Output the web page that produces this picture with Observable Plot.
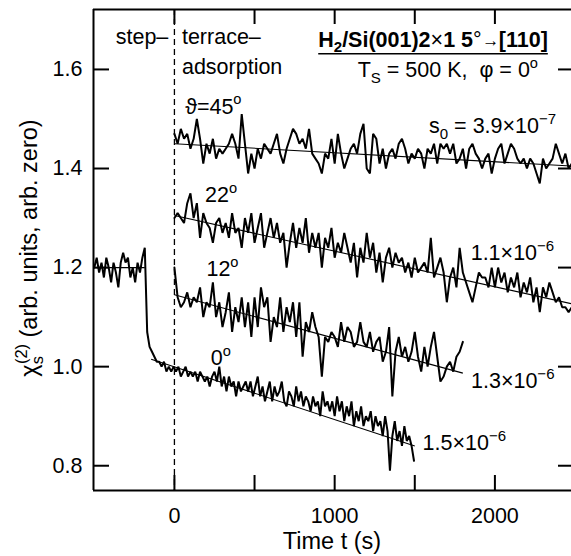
<!DOCTYPE html>
<html><head><meta charset="utf-8">
<script src="https://cdn.jsdelivr.net/npm/d3@7"></script>
<script src="https://cdn.jsdelivr.net/npm/@observablehq/plot@0.6"></script>
<style>
html,body{margin:0;padding:0;background:#fff;}
#chart svg{display:block;}
</style>
</head><body><div id="chart"></div>
<script>
// ---------- data ----------
const seriesNames = ["0°", "12°", "22°", "45°"];
const seriesStart = [-500, 0, 0, 0];     // time of first sample (s)
const seriesStep  = [15, 20, 20, 20];    // sampling interval (s)

const chi0 = [1.20,1.22,1.19,1.21,1.18,1.22,1.20,1.17,1.21,1.19,1.16,1.21,1.23,1.21,1.22,1.18,1.20,1.17,1.21,1.19,1.22,1.24,
  1.07,1.04,1.03,1.02,1.01,1.01,1.00,1.01,0.99,1.00,0.99,1.00,0.99,1.00,0.98,0.99,1.00,0.98,0.99,0.98,0.99,0.97,0.99,0.98,
  0.97,0.98,0.96,0.98,0.99,0.97,1.00,0.96,0.98,0.95,0.98,0.96,0.97,0.94,0.97,0.95,0.96,0.97,0.95,0.97,0.94,0.96,0.98,0.94,
  0.96,0.93,0.95,0.97,0.93,0.96,0.94,0.95,0.97,0.93,0.92,0.95,0.94,0.92,0.96,0.93,0.95,0.92,0.94,0.93,0.91,0.94,0.92,0.93,
  0.90,0.95,0.92,0.93,0.91,0.93,0.90,0.94,0.91,0.93,0.89,0.92,0.90,0.93,0.88,0.91,0.89,0.92,0.88,0.90,0.89,0.91,0.87,0.90,
  0.88,0.89,0.86,0.90,0.87,0.79,0.86,0.89,0.85,0.87,0.84,0.88,0.85,0.86,0.84,0.81];
const chi12 = [1.20,1.14,1.12,1.13,1.15,1.12,1.14,1.13,1.16,1.10,1.13,1.12,1.17,1.10,1.13,1.08,1.11,1.15,1.07,1.12,1.09,
  1.14,1.08,1.13,1.06,1.14,1.08,1.16,1.12,1.14,1.05,1.10,1.08,1.14,1.07,1.12,1.09,1.13,1.06,1.13,1.02,1.09,1.07,1.11,1.08,
  1.06,0.98,1.06,1.05,1.07,1.06,1.04,1.09,1.05,1.08,1.07,1.04,1.05,1.09,1.05,1.04,1.07,1.03,1.05,1.06,1.01,1.03,1.08,0.94,
  1.03,1.06,1.02,1.04,1.01,1.03,1.07,1.02,0.99,1.04,1.00,1.04,1.07,1.02,0.97,0.98,1.00,1.01,0.99,1.02,1.03,1.05];
const chi22 = [1.30,1.31,1.30,1.29,1.33,1.35,1.30,1.33,1.26,1.31,1.29,1.28,1.25,1.29,1.30,1.27,1.29,1.26,1.31,1.27,1.28,
  1.24,1.30,1.27,1.31,1.25,1.28,1.31,1.24,1.27,1.30,1.26,1.29,1.25,1.27,1.20,1.25,1.29,1.24,1.28,1.25,1.30,1.23,1.27,1.24,
  1.27,1.20,1.26,1.24,1.28,1.22,1.25,1.23,1.27,1.24,1.21,1.25,1.18,1.24,1.21,1.27,1.22,1.25,1.19,1.23,1.17,1.22,1.24,1.20,
  1.23,1.21,1.22,1.19,1.21,1.18,1.22,1.19,1.20,1.21,1.19,1.26,1.18,1.20,1.22,1.19,1.13,1.18,1.20,1.16,1.24,1.19,1.17,1.15,
  1.13,1.16,1.19,1.18,1.18,1.16,1.20,1.16,1.20,1.17,1.19,1.15,1.18,1.16,1.19,1.14,1.17,1.15,1.18,1.13,1.16,1.11,1.16,1.14,
  1.17,1.15,1.13,1.14,1.12,1.12,1.11,1.12];
const chi45 = [1.47,1.45,1.48,1.46,1.47,1.44,1.46,1.50,1.46,1.41,1.45,1.43,1.46,1.42,1.44,1.43,1.44,1.45,1.47,1.45,1.42,
  1.51,1.45,1.39,1.43,1.40,1.44,1.42,1.45,1.44,1.43,1.45,1.47,1.43,1.41,1.44,1.46,1.48,1.47,1.45,1.46,1.44,1.48,1.43,1.42,
  1.41,1.39,1.43,1.42,1.46,1.41,1.47,1.43,1.40,1.42,1.44,1.45,1.43,1.47,1.49,1.40,1.39,1.47,1.46,1.41,1.44,1.40,1.43,1.44,
  1.42,1.45,1.46,1.44,1.41,1.43,1.42,1.44,1.43,1.40,1.44,1.43,1.45,1.41,1.45,1.44,1.45,1.43,1.45,1.41,1.42,1.44,1.40,1.44,
  1.45,1.43,1.42,1.40,1.42,1.43,1.39,1.42,1.44,1.45,1.41,1.43,1.45,1.44,1.42,1.41,1.42,1.40,1.42,1.41,1.39,1.37,1.42,1.40,
  1.41,1.42,1.45,1.43,1.41,1.43,1.40,1.41];
const seriesValues = [chi0, chi12, chi22, chi45];

// straight-line fits (start/end time and value)
const fitT1 = [-505, -145, 0, 0, 0];
const fitT2 = [-185, 1500, 1800, 2478, 2478];
const fitV1 = [1.200, 1.015, 1.145, 1.305, 1.450];
const fitV2 = [1.200, 0.840, 0.987, 1.127, 1.405];

// axes
const xDomain = [-505, 2478];
const yDomain = [0.75, 1.721];
const xTicks = [0, 500, 1000, 1500, 2000];
const xTickLabels = [0, 1000, 2000];
const yTicks = [0.8, 1.0, 1.2, 1.4, 1.6];
const stepTime = [0];

// ---------- build ----------
const rows = [];
seriesNames.forEach((s, k) => seriesValues[k].forEach((v, i) =>
  rows.push({series: s, t: seriesStart[k] + i * seriesStep[k], v})));
const fits = fitT1.map((t, i) => ({t1: t, t2: fitT2[i], v1: fitV1[i], v2: fitV2[i]}));

const W = 571, H = 556, mL = 93, mT = 9, mB = 66, mR = 0;
const fw = W - mL - mR, fh = H - mT - mB;

const plot = Plot.plot({
  width: W, height: H,
  marginLeft: mL, marginTop: mT, marginBottom: mB, marginRight: mR,
  x: {domain: xDomain},
  y: {domain: yDomain},
  style: {fontFamily: "'Liberation Sans', Arial, Helvetica, sans-serif", fontSize: "21.5px", color: "black", background: "white", overflow: "visible"},
  marks: [
    Plot.ruleX([xDomain[0]], {strokeWidth: 2}),
    Plot.ruleY(yDomain, {strokeWidth: 2}),
    Plot.ruleX(xTicks, {insetTop: fh - 15, strokeWidth: 2}),
    Plot.ruleX(xTicks, {insetBottom: fh - 15, strokeWidth: 2}),
    Plot.ruleY(yTicks, {insetRight: fw - 16, strokeWidth: 2}),
    Plot.ruleY(yTicks, {insetLeft: fw - 13, strokeWidth: 2}),
    Plot.ruleX(stepTime, {strokeDasharray: "6,4", strokeWidth: 1.3}),
    Plot.link(fits, {x1: "t1", y1: "v1", x2: "t2", y2: "v2", stroke: "black", strokeWidth: 1.1}),
    Plot.line(rows, {x: "t", y: "v", z: "series", stroke: "black", strokeWidth: 2, strokeLinejoin: "miter"}),
    Plot.axisX({ticks: xTickLabels, tickSize: 0, tickPadding: 17, tickFormat: d3.format("d"), label: null}),
    Plot.axisY({ticks: yTicks, tickSize: 0, tickPadding: 11, tickFormat: d3.format(".1f"), label: null})
  ]
});
document.getElementById("chart").appendChild(plot);

// ---------- annotations (real text, placed through the plot's scales) ----------
const sx = plot.scale("x"), sy = plot.scale("y");
const svg = d3.select(plot);
const FONT = "'Liberation Sans', Arial, Helvetica, sans-serif";

function rich(parts, px, py, anchor, size, weight, transform) {
  const t = svg.append("text")
    .attr("x", px).attr("y", py)
    .attr("text-anchor", anchor)
    .attr("font-family", FONT)
    .attr("font-size", size)
    .attr("font-weight", weight || "normal")
    .attr("fill", "black");
  if (transform) t.attr("transform", transform);
  let cur = 0;
  for (const p of parts) {
    const [str, kind, dx] = Array.isArray(p) ? p : [p, "n", 0];
    let target = 0, fs = size, fw2 = null;
    if (kind === "sub") { target = size * 0.27; fs = size * 0.7; }
    if (kind === "sup") { target = -size * 0.42; fs = size * 0.7; }
    if (kind === "deg") { target = -size * 0.42; fs = size * 0.68; }
    if (kind === "arrow") { target = -size * 0.05; fs = size * 0.8; fw2 = "normal"; }
    if (kind === "light") { fw2 = "normal"; }
    const ts = t.append("tspan").attr("dy", target - cur).attr("font-size", fs).text(str);
    if (dx) ts.attr("dx", dx);
    if (fw2) ts.attr("font-weight", fw2);
    cur = target;
  }
  return t;
}

const annText = [
  ["step–"],
  ["terrace–"],
  ["adsorption"],
  ["ϑ=45", ["o", "deg"]],
  ["22", ["o", "deg"]],
  ["12", ["o", "deg"]],
  ["0", ["o", "deg"]],
  ["s", ["0", "sub"], " = 3.9×10", ["−7", "sup"]],
  ["1.1×10", ["−6", "sup"]],
  ["1.3×10", ["−6", "sup"]],
  ["1.5×10", ["−6", "sup"]],
  ["T", ["S", "sub"], " = 500 K,  φ = 0", ["o", "deg"]]
];
const annT = [-35, 50, 50, 70, 194, 203, 230, 1592, 1852, 1854, 1552, 2272];
const annV = [1.650, 1.650, 1.590, 1.510, 1.332, 1.182, 1.002, 1.470, 1.214, 0.955, 0.831, 1.583];
const annAnchor = ["end", "start", "start", "start", "start", "start", "start", "start", "start", "start", "start", "end"];
annText.forEach((parts, i) => rich(parts, sx.apply(annT[i]), sy.apply(annV[i]), annAnchor[i], 21.5));

// title (bold, underlined)
const title = rich(["H", ["2", "sub"], "/Si(001)2", ["×", "light"], "1 5", ["°", "light"], ["→", "arrow"], "[110]"],
  sx.apply(1617), sy.apply(1.645), "middle", 21.5, "bold");
const bb = title.node().getBBox();
svg.append("line")
  .attr("x1", bb.x).attr("x2", bb.x + bb.width)
  .attr("y1", sy.apply(1.645) + 7).attr("y2", sy.apply(1.645) + 7)
  .attr("stroke", "black").attr("stroke-width", 1.5);

// axis titles
rich(["Time t (s)"], mL + fw / 2, 549, "middle", 23.5);
rich(["χ", ["s", "sub"], ["(2)", "sup", -8], " (arb. units, arb. zero)"], 0, 0, "middle", 23.5, "normal",
  "translate(37,248) rotate(-90)");
</script>
</body></html>
